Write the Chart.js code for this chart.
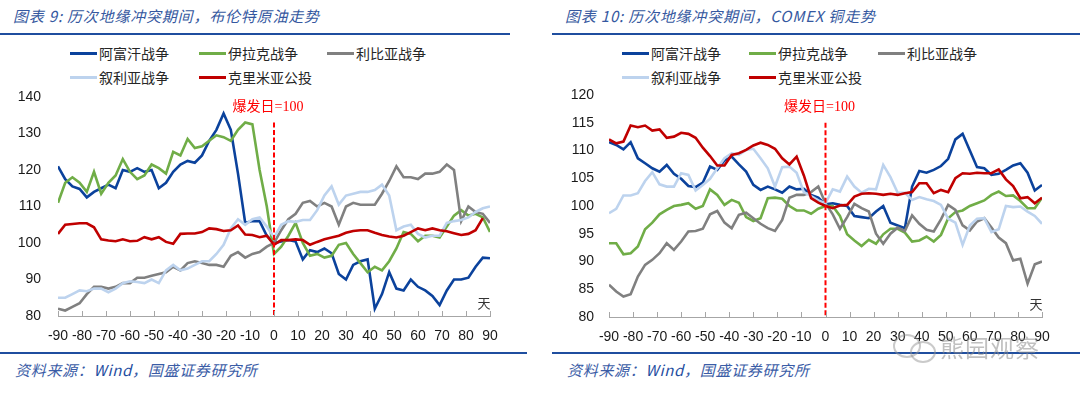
<!DOCTYPE html>
<html><head><meta charset="utf-8">
<script src="https://cdn.jsdelivr.net/npm/chart.js@4.4.1/dist/chart.umd.min.js"></script>
<style>
body{margin:0;width:1080px;height:394px;background:#fff;position:relative;overflow:hidden;font-family:"Noto Sans CJK SC",sans-serif;}
.title{position:absolute;top:6px;font-size:15px;line-height:20px;font-style:italic;color:#3558a0;letter-spacing:0.8px;white-space:nowrap}
.hline{position:absolute;height:2px;background:#1f4e9f}
.src{position:absolute;top:361px;font-size:15px;line-height:18px;font-style:italic;color:#3a5ca6;letter-spacing:0.7px;white-space:nowrap}
.src b{font-weight:normal;color:#1f4e9f}
.leg{position:absolute;font-size:14px;line-height:16px;color:#262626;white-space:nowrap}
.mk{position:absolute;width:27px;height:3px}
canvas{position:absolute}
.wm{position:absolute;left:940px;top:334px;font-size:24px;line-height:26px;color:rgba(140,140,140,0.55);letter-spacing:1px}
.bub{position:absolute;border:2px solid rgba(150,150,150,0.5);border-radius:50%}
</style></head>
<body>
<div class="title" style="left:13px">图表 9: 历次地缘冲突期间，布伦特原油走势</div>
<div class="title" style="left:565px">图表 10: 历次地缘冲突期间，COMEX 铜走势</div>
<div class="hline" style="left:0;width:510px;top:33px"></div>
<div class="hline" style="left:552px;width:528px;top:33px"></div>
<div id="legL"></div><div id="legR"></div>
<canvas id="cL" width="530" height="275" style="left:0;top:80px;width:530px;height:275px"></canvas>
<canvas id="cR" width="528" height="278" style="left:552px;top:78px;width:528px;height:278px"></canvas>
<div class="hline" style="left:0;width:527px;top:352px"></div>
<div class="hline" style="left:552px;width:528px;top:352px"></div>
<div class="src" style="left:15px">资料来源：<b>Wind</b>，国盛证券研究所</div>
<div class="src" style="left:567px">资料来源：<b>Wind</b>，国盛证券研究所</div>
<div class="bub" style="left:893px;top:334px;width:24px;height:20px"></div>
<div class="bub" style="left:910px;top:341px;width:22px;height:18px"></div>
<div class="wm">熊园观察</div>
<script>
const days = [-90,-87,-84,-81,-78,-75,-72,-69,-66,-63,-60,-57,-54,-51,-48,-45,-42,-39,-36,-33,-30,-27,-24,-21,-18,-15,-12,-9,-6,-3,0,3,6,9,12,15,18,21,24,27,30,33,36,39,42,45,48,51,54,57,60,63,66,69,72,75,78,81,84,87,90];

const seriesNames = ['阿富汗战争','伊拉克战争','利比亚战争','叙利亚战争','克里米亚公投'];
const seriesColors = ['#0b429c','#70ad47','#808080','#bdd3ee','#c00000'];

// Brent crude (left chart)
const brentAfghan = [121,117.5,115.5,114.8,112.5,114,115,116,115,120,119.5,120.5,119.5,120,115,116.5,119.5,121.5,122.5,122,124,128,131,135.5,131,119,105.5,106,106,102,100,100.4,100.8,100.4,95.5,98,97.5,98.5,97.2,91.5,90,94,95,95.5,82,86,92,87.5,87,90,88,87,85.5,83,87,90,90,90.5,93.5,96,95.8];
const brentIraq = [111,116.5,118,116.5,114,119.5,113.5,116.5,118.5,123,119.5,117.5,118.5,121.5,120.5,119,125,124,128.5,126,126.5,128,129.5,129,128,131,133,132.5,120,110,97,99,102,105.5,100,96.5,97,96,96.5,99.5,100,97,94.5,92,93.5,92.5,95,98.5,103,102.5,100.5,102,102,101.5,104.5,107.5,109,107.5,108,107,103];
const brentLibya = [82,81.5,82.5,83.5,86,88,88,87.5,88,89,89,90.5,90.5,91,91.5,92,93.5,92.5,94.5,95,94.5,94,94,93.5,96.5,97.5,96,97,97.5,99,100,103.5,106.5,108,111,111.5,110,111,110,105,110,111,110.5,110.5,110.5,113.5,117,121,118,118,117.5,119,119,119.5,121.5,120,106,110,108.5,108,105.5];
const brentSyria = [85,85,86,87,86.8,87.5,87.5,86.5,87.5,89,89.5,89.3,89,90,89,92.5,94,92.5,93,94,95,95,97,99.5,104,106.5,105,106.5,107,104.5,101.5,105,106,105.8,106.3,106.3,109,113,115.5,110.5,113,113.5,114,114,114.5,116,113,103.5,104.5,105,102.5,101.5,102,102,105.5,106,106.3,107,108.5,109.5,110];
const brentCrimea = [102.5,105,105.2,105.4,105.4,104.3,101,100.7,100.5,101,100.5,100.6,101.6,101,101.6,100.3,99.8,102.5,102.6,102.6,103,104,103.8,103.3,103.5,104.8,102.3,102.2,101.6,102,99.5,100.8,100.8,101,100.8,99.5,100.3,101,101.5,102,102.8,103.3,103.5,103.5,102.8,102.2,101.8,101.5,102,103,104,103.5,104,103.5,103.2,102.7,102.2,102.5,103.5,106.8,null];

// COMEX copper (right chart)
const copperAfghan = [111.5,111,110.2,111.5,108.6,107.7,106.8,106.2,107.4,105.8,104.9,103.6,103.4,104.2,107.1,106.5,108.2,108.9,107.5,106.2,103.8,102.9,103.5,103,102.4,103.5,103,103.1,102,101.5,100.3,100.5,100.2,100,98.2,98,97.8,99,100,97,96.5,96,103.5,106.3,106,106.5,107.2,108.5,112,113,110,107,106.8,105.6,105.8,106.5,107.3,107.7,106,102.8,103.8];
const copperIraq = [93.3,93.3,91.3,91.5,92.7,95.8,97,98.5,99.3,100,100.2,100.5,99.5,100,103,102,100.2,101.1,100.6,98,97.3,97.8,101.4,101.5,101.3,100,99.2,99.2,98.6,99.5,100,100,98.2,94.9,93.8,92.8,93.9,93.2,94.9,95.9,95.9,95.2,93.6,93.8,94.5,93.6,94.8,97.8,98.9,99.2,100,100.5,101,102,102.6,101.8,101.9,100.9,99.6,99.6,101.5];
const copperLibya = [85.8,84.6,83.7,84.1,87.3,89.4,90.3,91.5,93.3,92.1,93.6,95.4,95.5,95.9,98.5,99.1,97,96,98.4,98.8,97.8,96.8,96,95.5,97.5,101.5,102,102,102.5,103.5,100.5,98.5,95.9,98,100.4,99.6,99,95,93.2,95,96.1,95.5,98.3,96.8,95.7,95.4,97.6,100.2,99.3,96.5,95.6,97.2,97.8,96.1,94.3,93.3,90.2,90.5,86,89.5,90];
const copperSyria = [98.7,99.5,101.9,101.9,102.3,104.5,106.1,103.9,103.5,103.5,105.9,105.6,102.8,103.8,104.9,106.8,108.6,109.5,109.2,110.1,110.3,108.6,106.8,103.5,107,107.1,106,102.5,101.8,101,100.5,103,102.6,105.3,103.5,102.4,103.1,103,107.4,105.2,102.4,102.4,101.1,101.6,101.2,100.9,100.2,97.7,97,93,96.5,97.7,97.8,95.3,95.8,100,99.8,99.9,99,98.2,96.8];
const copperCrimea = [112,111.3,111.6,114.5,114.2,114.5,113.6,113.8,112.3,112.5,113.2,113,112.3,110.5,109,107.3,107.3,109.2,109.5,110.1,110.9,111.4,111,110.3,108.6,107.5,108.9,105.5,101.4,100.6,100,99.6,100.1,100.2,101.7,102.2,102.3,102.2,102,102.2,102,102.3,102.5,104.1,104.1,102.3,102.9,102.5,105,105.9,105.8,106,105.9,105.9,106.6,104.8,103.6,101.4,101.6,100.5,101.5];

// outbreak-day marker (x = 0) and axis settings
const eventDay = 0;
const brentEventSpan = [133, 80];
const copperEventSpan = [115, 80];
const eventLabel = '爆发日=100';
const brentAxis = {min:80, max:140, step:10};
const copperAxis = {min:80, max:120, step:5};
const dayAxis = {min:-90, max:90, step:10};

function buildLegend(id, left, xs){
  const el = document.getElementById(id);
  const rows = [53, 77];
  seriesNames.forEach((n,i)=>{
    const r = rows[Math.floor(i/3)], x = left + xs[i%3];
    const m = document.createElement('div'); m.className='mk';
    m.style.left = x+'px'; m.style.top=(r-1.5)+'px'; m.style.background=seriesColors[i];
    const t = document.createElement('div'); t.className='leg';
    t.style.left=(x+29)+'px'; t.style.top=(r-8)+'px'; t.textContent=n;
    el.appendChild(m); el.appendChild(t);
  });
}
buildLegend('legL', 70, [0,129,257]);
buildLegend('legR', 622, [0,127,256]);

const decor = {
  id:'decor',
  afterDatasetsDraw(chart, args, opts){
    const {ctx, chartArea, scales:{x, y}} = chart;
    ctx.save();
    ctx.strokeStyle = '#a6a6a6'; ctx.lineWidth = 1;
    x.ticks.forEach(t=>{
      const px = Math.round(x.getPixelForValue(t.value)) + 0.5;
      ctx.beginPath(); ctx.moveTo(px, chartArea.bottom); ctx.lineTo(px, chartArea.bottom - 5); ctx.stroke();
    });
    ctx.fillStyle = '#ff0000';
    ctx.font = '14px "Liberation Serif", "Noto Sans CJK SC"';
    ctx.textAlign = 'center'; ctx.textBaseline = 'middle';
    ctx.fillText(eventLabel, x.getPixelForValue(eventDay) - 6, y.getPixelForValue(opts.labelY));
    ctx.fillStyle = '#333';
    ctx.font = '13px "Noto Sans CJK SC"';
    ctx.fillText('天', chartArea.right - 6, chartArea.bottom - 13);
    ctx.restore();
  }
};

function makeChart(id, arrays, span, axis, yWidth, yPad, pad, labelY){
  const ds = [{
    data: span.map(v=>({x:eventDay, y:v})),
    borderColor:'#ff0000', borderWidth:2, borderDash:[5,2.5], pointRadius:0
  }];
  for (let i = arrays.length - 1; i >= 0; i--) {
    ds.push({
      label: seriesNames[i],
      data: days.map((d,k)=>({x:d, y:arrays[i][k]})),
      borderColor: seriesColors[i], borderWidth: 2.6, pointRadius: 0, tension: 0, spanGaps:false
    });
  }
  return new Chart(document.getElementById(id), {
    type:'line',
    data:{datasets:ds},
    options:{
      responsive:false, animation:false, devicePixelRatio:1,
      layout:{padding:pad},
      plugins:{legend:{display:false}, tooltip:{enabled:false}, decor:{labelY:labelY}},
      scales:{
        x:{type:'linear', min:dayAxis.min, max:dayAxis.max,
           ticks:{stepSize:dayAxis.step, autoSkip:false, maxRotation:0, padding:12, color:'#1a1a1a',
                  font:{family:'Liberation Sans', size:14}},
           grid:{display:false, drawTicks:false},
           border:{display:true, color:'#a6a6a6', width:1},
           afterFit(s){ s.height = 39; s.paddingLeft = 0; s.paddingRight = 0; }},
        y:{min:axis.min, max:axis.max,
           ticks:{stepSize:axis.step, padding:yPad, color:'#1a1a1a', font:{family:'Liberation Sans', size:14}},
           grid:{display:false, drawTicks:false},
           border:{display:false},
           afterFit(s){ s.width = yWidth; s.paddingTop = 0; s.paddingBottom = 0; }}
      }
    },
    plugins:[decor]
  });
}

makeChart('cL', [brentAfghan, brentIraq, brentLibya, brentSyria, brentCrimea], brentEventSpan, brentAxis, 58, 17, {top:17, right:40, left:0, bottom:0}, 137.3);
makeChart('cR', [copperAfghan, copperIraq, copperLibya, copperSyria, copperCrimea], copperEventSpan, copperAxis, 57, 15, {top:17, right:38, left:0, bottom:0}, 117.8);
</script>
</body></html>
